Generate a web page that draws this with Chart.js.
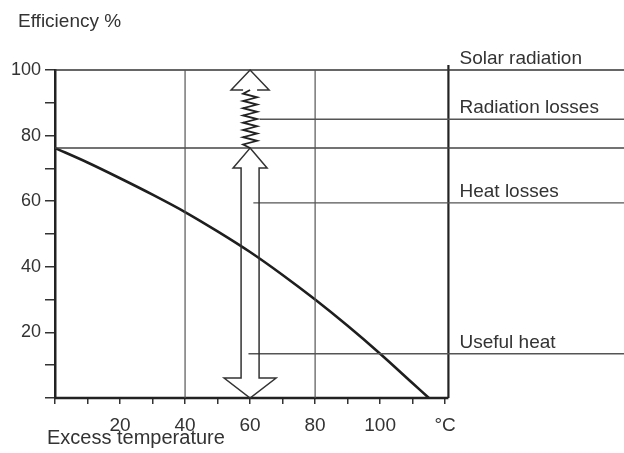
<!DOCTYPE html>
<html>
<head>
<meta charset="utf-8">
<script src="https://cdn.jsdelivr.net/npm/chart.js@4.4.1/dist/chart.umd.min.js"></script>
<style>
    html, body { margin: 0; padding: 0; background: #fff; }
    #wrap { width: 624px; height: 453px; }
</style>
</head>
<body>
<div id="wrap"><canvas id="effChart"></canvas></div>
<script>
// efficiency curve (excess temperature °C -> efficiency %)
const temps = [0, 10, 20, 30, 40, 50, 60, 70, 80, 90, 100, 110, 115];
const efficiency = [76.2, 71.8, 67, 62, 56.7, 50.8, 44.5, 37.5, 30, 22, 13.5, 4.5, 0];

// energy levels on the right
const levelNames = ['Solar radiation', 'Radiation losses', 'Heat losses', 'Useful heat'];
const levelValues = [100, 85, 59.5, 13.5];
const levelStarts = [0, 63, 61, 59.5];
const opticalLevel = 76.2;   // unlabeled line at the curve start

// frame and grid
const xMax = 175;
const frameRight = 121;
const gridX = [40, 80];

// ticks
const xTicks = [0, 10, 20, 30, 40, 50, 60, 70, 80, 90, 100, 110, 120];
const xTickLabels = { 20: '20', 40: '40', 60: '60', 80: '80', 100: '100', 120: '°C' };
const yTickLabels = [20, 40, 60, 80, 100];

// arrows at 60 °C
const arrowX = 60;
const usefulArrow = [0, 76.2];
const radiationArrow = [76.2, 100];

const FONT = "'Liberation Sans', Arial, sans-serif";

function hLine(x0, x1, y, color, width) {
    return {
        data: [{ x: x0, y: y }, { x: x1, y: y }],
        borderColor: color, borderWidth: width,
        pointRadius: 0, clip: false
    };
}
function vLine(x, y0, y1, color, width) {
    return {
        data: [{ x: x, y: y0 }, { x: x, y: y1 }],
        borderColor: color, borderWidth: width,
        pointRadius: 0, clip: false
    };
}

const datasets = [];
gridX.forEach(x => datasets.push(vLine(x, 0, 100, '#555', 1.2)));
datasets.push(hLine(0, xMax, levelValues[0], '#333', 1.6));
datasets.push(hLine(0, xMax, opticalLevel, '#444', 1.6));
for (let i = 1; i < levelValues.length; i++) {
    datasets.push(hLine(levelStarts[i], xMax, levelValues[i], '#555', 1.4));
}
datasets.push(hLine(0, frameRight, 0, '#222', 2.5));
datasets.push(vLine(frameRight, 0, 101.5, '#222', 2.2));
datasets.push({
    data: temps.map((t, i) => ({ x: t, y: efficiency[i] })),
    borderColor: '#1e1e1e', borderWidth: 2.6,
    pointRadius: 0, tension: 0.3, clip: false
});

// arrows, labels and axis titles
const decorations = {
    id: 'decorations',
    afterDatasetsDraw(chart) {
        const { ctx, scales: { x, y }, chartArea } = chart;
        const cx = x.getPixelForValue(arrowX);
        ctx.save();
        ctx.strokeStyle = '#333';
        ctx.lineWidth = 1.5;
        ctx.lineJoin = 'miter';

        // double headed hollow arrow: useful heat + heat losses
        const top = y.getPixelForValue(usefulArrow[1]);
        const bot = y.getPixelForValue(usefulArrow[0]);
        const hl = 20, sw = 9, tw = 17, bw = 26;
        ctx.beginPath();
        ctx.moveTo(cx, top);
        ctx.lineTo(cx + tw, top + hl);
        ctx.lineTo(cx + sw, top + hl);
        ctx.lineTo(cx + sw, bot - hl);
        ctx.lineTo(cx + bw, bot - hl);
        ctx.lineTo(cx, bot);
        ctx.lineTo(cx - bw, bot - hl);
        ctx.lineTo(cx - sw, bot - hl);
        ctx.lineTo(cx - sw, top + hl);
        ctx.lineTo(cx - tw, top + hl);
        ctx.closePath();
        ctx.stroke();

        // spring arrow: radiation losses
        const rTop = y.getPixelForValue(radiationArrow[1]);
        const rBot = y.getPixelForValue(radiationArrow[0]);
        const rBase = rTop + 20, rw = 19, amp = 7;
        ctx.beginPath();
        ctx.moveTo(cx - amp, rBase);
        ctx.lineTo(cx - rw, rBase);
        ctx.lineTo(cx, rTop);
        ctx.lineTo(cx + rw, rBase);
        ctx.lineTo(cx + amp, rBase);
        ctx.stroke();
        const n = 16;
        ctx.lineWidth = 1.8;
        ctx.strokeStyle = '#222';
        ctx.beginPath();
        ctx.moveTo(cx, rBot);
        for (let i = 1; i <= n; i++) {
            const py = rBot - (rBot - rBase) * i / n;
            const px = i === n ? cx : (i % 2 ? cx - amp : cx + amp);
            ctx.lineTo(px, py);
        }
        ctx.stroke();

        // level labels
        ctx.fillStyle = '#333';
        ctx.font = '19px ' + FONT;
        ctx.textAlign = 'left';
        ctx.textBaseline = 'alphabetic';
        const lx = x.getPixelForValue(124.4);
        levelNames.forEach((name, i) => {
            ctx.fillText(name, lx, y.getPixelForValue(levelValues[i]) - 6);
        });

        // axis titles
        ctx.font = '19px ' + FONT;
        ctx.fillText('Efficiency %', chartArea.left - 37, chartArea.top - 43);
        ctx.font = '20px ' + FONT;
        ctx.fillText('Excess temperature', chartArea.left - 8, chartArea.bottom + 46);
        ctx.restore();
    }
};

const ctx = document.getElementById('effChart').getContext('2d');
new Chart(ctx, {
    type: 'line',
    data: { datasets: datasets },
    plugins: [decorations],
    options: {
        responsive: true,
        maintainAspectRatio: false,
        animation: false,
        events: [],
        layout: { padding: { top: 70, right: 0, left: 0, bottom: 0 } },
        plugins: { legend: { display: false }, tooltip: { enabled: false } },
        scales: {
            x: {
                type: 'linear', min: 0, max: xMax,
                afterBuildTicks: s => { s.ticks = xTicks.map(v => ({ value: v })); },
                afterFit: s => { s.height = 55; },
                border: { display: false },
                grid: { drawOnChartArea: false, tickLength: 6, color: '#333', lineWidth: 1.5 },
                ticks: {
                    autoSkip: false, maxRotation: 0, padding: 10,
                    color: '#333', font: { family: FONT, size: 19 },
                    callback: v => xTickLabels[v] || ''
                }
            },
            y: {
                min: 0, max: 100,
                afterFit: s => { s.width = 55; },
                border: { display: true, color: '#222', width: 2.5 },
                grid: { drawOnChartArea: false, tickLength: 10, color: '#333', lineWidth: 1.5 },
                ticks: {
                    stepSize: 10, padding: 4,
                    color: '#333', font: { family: FONT, size: 18 },
                    callback: v => yTickLabels.includes(v) ? String(v) : ''
                }
            }
        }
    }
});
</script>
</body>
</html>
